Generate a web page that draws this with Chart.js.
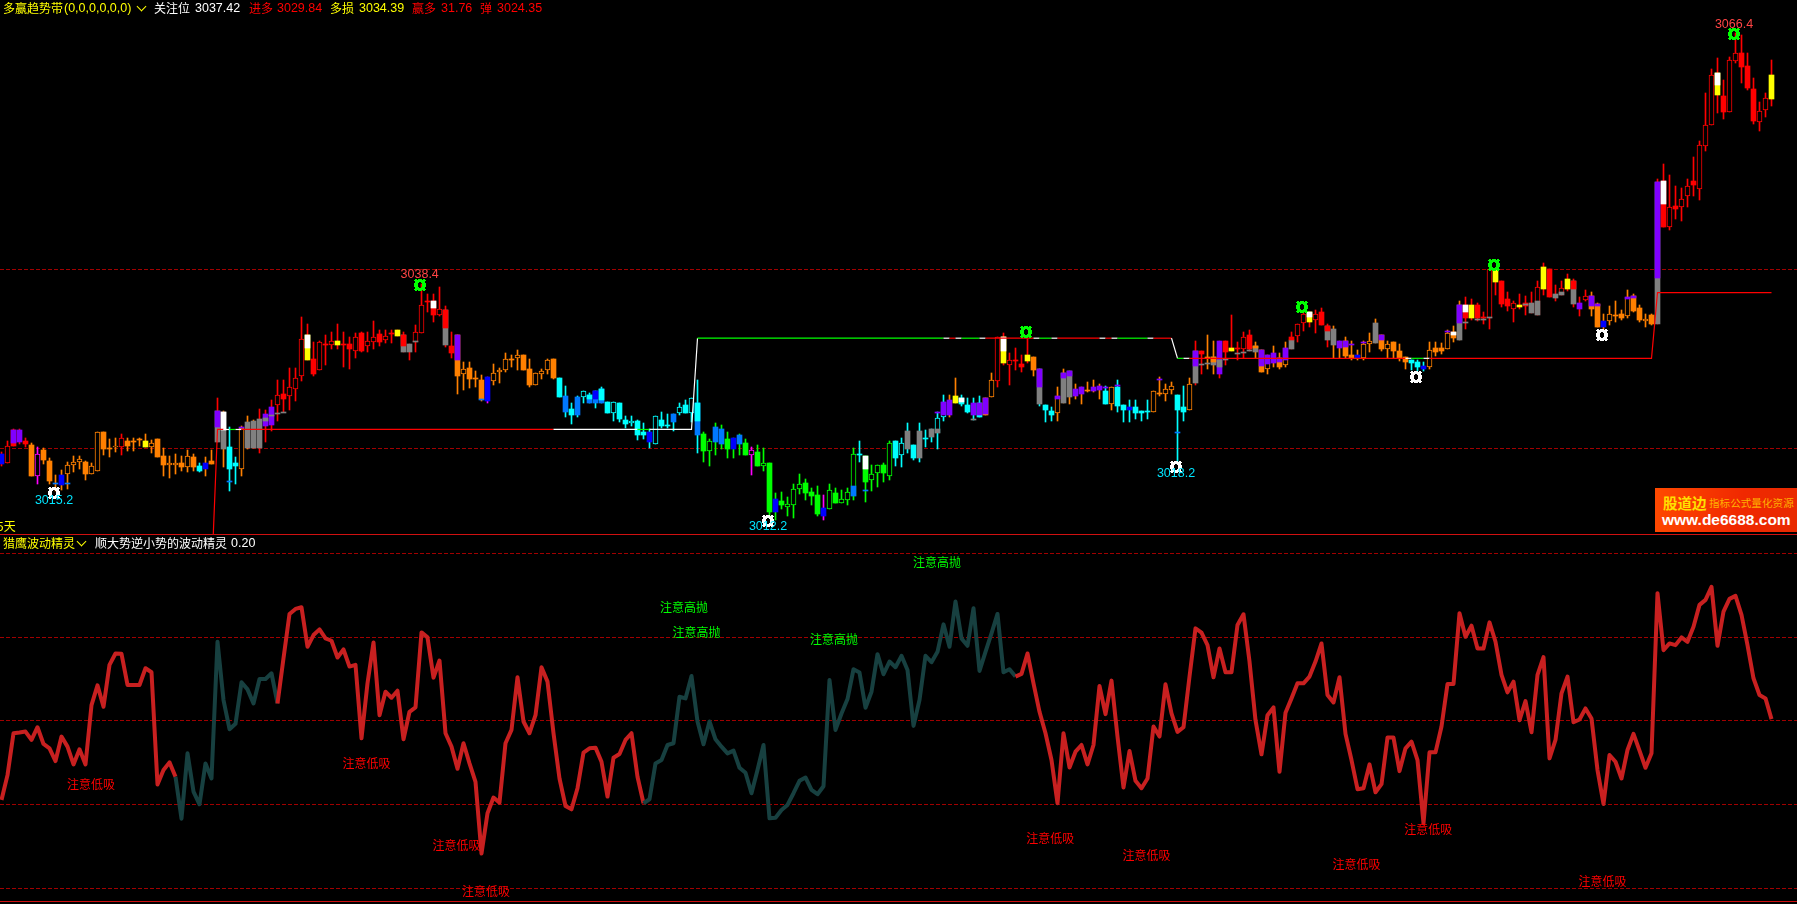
<!DOCTYPE html>
<html>
<head>
<meta charset="utf-8">
<title>多赢趋势带</title>
<script src="https://cdn.jsdelivr.net/npm/chart.js@4/dist/chart.umd.min.js"></script>
<style>
    html, body { margin: 0; padding: 0; background: #000; width: 1797px; height: 904px; overflow: hidden; }
    canvas { position: absolute; left: 0; display: block; }
    #priceChart { top: 0; }
    #waveChart { top: 534px; }
    .frame { position: absolute; left: 0; width: 1797px; height: 1px; background: #d01010; }
    .t { position: absolute; white-space: nowrap; font: 12px/14px "Noto Sans CJK SC", sans-serif; }
    .n { font: 12.5px/14px "Liberation Sans", sans-serif; }
    .yl { color: #ffff00; } .wh { color: #fff; } .rd { color: #ff0000; }
    .chev { position: absolute; width: 6px; height: 6px; border-right: 1.5px solid #ffff00; border-bottom: 1.5px solid #ffff00; transform: rotate(45deg); }
    #logo { position: absolute; left: 1655px; top: 488px; width: 142px; height: 44px; background: linear-gradient(100deg, #ff4a00, #f02800 60%, #e82a00); }
</style>
</head>
<body>
<canvas id="priceChart" width="1797" height="534"></canvas>
<canvas id="waveChart" width="1797" height="370"></canvas>

<div class="frame" style="top:534px"></div>
<div class="frame" style="top:901px"></div>

<span class="t yl" style="left:3px;top:1px">多赢趋势带</span>
<span class="t n yl" style="left:64px;top:1px">(0,0,0,0,0,0)</span>
<i class="chev" style="left:138px;top:3px"></i>
<span class="t wh" style="left:154px;top:1px">关注位</span>
<span class="t n wh" style="left:195px;top:1px">3037.42</span>
<span class="t rd" style="left:249px;top:1px">进多</span>
<span class="t n rd" style="left:277px;top:1px">3029.84</span>
<span class="t yl" style="left:330px;top:1px">多损</span>
<span class="t n yl" style="left:359px;top:1px">3034.39</span>
<span class="t rd" style="left:412px;top:1px">赢多</span>
<span class="t n rd" style="left:441px;top:1px">31.76</span>
<span class="t rd" style="left:480px;top:1px">弹</span>
<span class="t n rd" style="left:497px;top:1px">3024.35</span>

<span class="t yl" style="left:-3px;top:519px">5天</span>

<span class="t yl" style="left:3px;top:536px">猎鹰波动精灵</span>
<i class="chev" style="left:78px;top:538px"></i>
<span class="t wh" style="left:95px;top:536px">顺大势逆小势的波动精灵</span>
<span class="t n wh" style="left:231px;top:536px">0.20</span>

<div id="logo">
    <span class="t" style="left:8px;top:7px;font-size:14.5px;line-height:16px;font-weight:700;color:#ffe000">股道边</span>
    <span class="t" style="left:54px;top:8px;font-size:10.6px;line-height:14px;color:#ffb000">指标公式量化资源</span>
    <span class="t" style="left:7px;top:23px;font:700 15.5px/17px 'Liberation Sans',sans-serif;color:#fff">www.de6688.com</span>
</div>

<script>
    // candles
    const high = [
        3019.6,3020.8,3022.2,3022.2,3021.2,3020.6,3020.1,3020.0,3018.9,3017.0,
        3017.6,3018.5,3019.1,3019.1,3018.6,3018.4,3021.8,3021.8,3021.0,3021.2,
        3021.6,3021.2,3021.2,3021.2,3021.6,3020.9,3021.0,3020.0,3019.1,3019.4,
        3019.1,3019.8,3019.4,3018.4,3019.0,3019.8,3025.6,3024.2,3022.4,3019.0,
        3022.5,3023.6,3023.2,3024.4,3024.3,3025.4,3027.6,3027.6,3029.0,3029.0,
        3034.7,3033.9,3031.9,3032.0,3032.7,3033.0,3033.9,3033.0,3032.4,3032.9,
        3033.0,3033.0,3034.2,3033.2,3033.2,3033.2,3033.2,3033.0,3031.7,3033.8,
        3038.4,3037.2,3037.2,3038.0,3035.9,3033.0,3032.7,3029.6,3029.6,3028.6,
        3028.2,3028.0,3029.4,3029.0,3030.7,3030.4,3031.0,3030.4,3030.0,3028.4,
        3028.9,3030.0,3030.0,3027.9,3027.0,3025.1,3025.8,3026.4,3026.2,3026.4,
        3026.9,3025.2,3025.2,3025.1,3023.6,3023.6,3023.2,3022.8,3022.2,3023.6,
        3024.1,3023.8,3023.8,3025.1,3025.4,3025.6,3027.6,3021.8,3021.0,3022.8,
        3022.6,3021.8,3021.2,3021.6,3021.0,3020.1,3020.4,3020.0,3018.4,3015.0,
        3015.1,3014.6,3016.0,3017.1,3016.6,3015.6,3015.8,3014.8,3016.0,3015.6,
        3015.3,3015.6,3020.0,3020.8,3019.1,3018.1,3018.1,3018.4,3020.8,3020.8,
        3021.2,3022.8,3020.4,3022.8,3022.0,3022.2,3024.1,3026.0,3026.0,3027.9,
        3026.0,3025.6,3025.6,3025.8,3025.6,3028.4,3032.4,3032.9,3030.7,3031.2,
        3030.4,3032.2,3030.2,3028.9,3024.8,3024.6,3026.9,3028.9,3028.6,3027.2,
        3026.9,3027.4,3027.6,3027.2,3027.0,3026.9,3027.6,3024.8,3025.4,3025.4,
        3024.2,3025.4,3026.4,3028.0,3027.2,3027.4,3026.0,3027.0,3027.9,3032.0,
        3030.9,3032.7,3032.0,3032.0,3032.0,3034.9,3031.9,3033.0,3033.2,3031.9,
        3031.0,3030.4,3031.4,3030.7,3031.9,3033.0,3033.9,3035.5,3035.2,3035.5,
        3035.7,3033.9,3033.7,3032.0,3032.4,3032.0,3031.0,3032.0,3032.9,3034.5,
        3032.7,3032.0,3031.9,3031.7,3030.2,3029.9,3029.9,3029.6,3031.9,3031.9,
        3031.8,3033.2,3033.7,3036.5,3036.9,3036.7,3036.2,3035.2,3040.0,3040.0,
        3038.7,3037.5,3036.5,3037.2,3037.0,3037.5,3038.7,3040.7,3040.0,3038.2,
        3038.7,3039.5,3038.9,3036.9,3037.7,3037.5,3036.2,3035.0,3035.9,3036.5,
        3035.5,3037.7,3037.2,3036.0,3035.0,3035.0,3050.1,3051.8,3050.5,3049.3,
        3049.1,3050.1,3052.6,3054.3,3059.7,3062.4,3063.6,3061.2,3063.7,3066.4,
        3066.2,3064.2,3061.4,3058.7,3059.7,3063.4
    ];
    const low = [
        3018.0,3018.3,3020.3,3020.5,3020.1,3016.9,3016.0,3018.2,3016.0,3015.2,
        3015.3,3015.5,3017.3,3017.7,3016.5,3017.1,3017.5,3019.3,3019.0,3019.6,
        3019.3,3019.7,3019.7,3020.3,3020.1,3019.5,3019.0,3016.9,3016.7,3017.1,
        3017.5,3017.3,3017.5,3017.3,3016.9,3018.2,3020.7,3017.9,3015.2,3016.0,
        3016.9,3019.9,3020.0,3019.5,3020.7,3021.9,3023.1,3024.0,3024.3,3025.3,
        3027.5,3029.9,3028.1,3028.8,3029.3,3031.1,3031.1,3029.1,3028.9,3030.1,
        3030.8,3030.8,3031.1,3031.4,3031.8,3031.8,3032.5,3030.8,3029.9,3030.8,
        3032.9,3035.2,3034.1,3034.8,3031.3,3030.1,3026.1,3026.5,3026.7,3026.9,
        3025.3,3025.1,3027.1,3027.3,3028.5,3029.1,3028.8,3028.8,3026.9,3027.1,
        3027.7,3028.3,3027.7,3025.7,3023.5,3022.7,3023.5,3025.1,3025.1,3024.5,
        3025.1,3023.9,3023.1,3022.9,3022.3,3022.5,3020.9,3021.0,3020.0,3020.5,
        3022.3,3022.3,3021.9,3023.7,3023.9,3022.9,3019.5,3018.5,3018.0,3019.3,
        3019.9,3018.9,3018.9,3019.3,3019.3,3017.0,3018.0,3017.5,3012.2,3012.0,
        3013.2,3012.4,3012.2,3014.9,3014.2,3013.7,3012.4,3012.0,3013.2,3013.9,
        3013.9,3013.7,3014.2,3018.5,3014.0,3015.2,3015.7,3016.2,3016.5,3018.0,
        3017.9,3019.5,3018.7,3018.5,3020.1,3020.7,3019.9,3023.1,3023.5,3025.1,
        3024.7,3023.9,3023.2,3023.5,3023.7,3025.7,3026.9,3029.3,3027.1,3028.8,
        3028.5,3029.5,3028.1,3024.7,3022.9,3023.1,3023.1,3025.1,3025.0,3025.5,
        3025.0,3026.3,3026.3,3025.5,3025.0,3024.3,3024.1,3022.9,3022.9,3023.3,
        3023.1,3023.3,3024.1,3025.8,3025.3,3026.1,3018.2,3023.1,3024.3,3027.1,
        3028.3,3028.9,3028.3,3027.9,3029.3,3030.9,3029.9,3030.1,3030.9,3030.1,
        3028.5,3028.3,3029.1,3028.9,3029.1,3031.1,3031.9,3033.1,3033.6,3032.9,
        3033.8,3031.3,3030.1,3030.1,3030.1,3029.9,3029.9,3029.9,3030.8,3031.8,
        3030.9,3030.1,3030.1,3029.8,3028.9,3028.8,3028.6,3028.6,3028.9,3030.3,
        3030.5,3031.1,3031.9,3032.1,3033.3,3034.3,3034.2,3033.9,3033.3,3037.1,
        3035.8,3035.3,3034.1,3035.6,3034.9,3035.1,3034.9,3037.1,3036.9,3036.4,
        3037.1,3037.6,3035.8,3034.8,3036.4,3034.8,3033.6,3033.2,3033.8,3034.1,
        3034.3,3034.6,3035.2,3034.1,3033.6,3033.8,3033.9,3044.7,3044.4,3045.6,
        3045.4,3047.0,3048.2,3047.7,3053.2,3056.1,3057.5,3056.8,3057.6,3063.1,
        3060.8,3060.0,3056.2,3055.5,3057.0,3058.2
    ];
    const open = [
        3019.4,3018.3,3022.0,3022.0,3020.8,3020.4,3016.9,3019.8,3018.6,3016.1,
        3017.0,3017.1,3018.1,3018.5,3018.5,3017.1,3017.5,3021.8,3020.0,3020.1,
        3020.1,3020.8,3020.8,3021.0,3020.8,3020.1,3021.0,3019.1,3018.1,3018.1,
        3018.4,3017.9,3019.0,3018.0,3018.4,3018.6,3024.2,3024.1,3020.1,3018.4,
        3017.7,3022.9,3023.1,3023.3,3023.8,3024.6,3024.8,3026.1,3025.8,3026.6,
        3028.1,3032.7,3030.0,3028.8,3031.7,3031.5,3032.0,3031.7,3031.7,3030.9,
        3032.9,3031.4,3031.9,3032.8,3032.1,3032.9,3033.2,3032.7,3031.7,3031.9,
        3032.9,3036.4,3036.5,3034.9,3035.5,3031.4,3032.7,3028.3,3029.0,3027.9,
        3027.6,3028.0,3027.5,3028.5,3028.8,3030.0,3030.1,3030.4,3028.9,3027.1,
        3028.3,3028.8,3030.0,3027.9,3025.8,3024.4,3025.7,3025.7,3026.0,3026.4,
        3026.6,3025.2,3023.9,3025.1,3023.2,3022.8,3023.1,3021.8,3021.8,3020.5,
        3023.2,3022.6,3023.8,3023.9,3024.8,3023.9,3025.1,3021.6,3019.7,3022.4,
        3022.2,3021.0,3021.2,3021.5,3020.6,3019.3,3019.6,3018.0,3018.4,3014.3,
        3014.1,3013.4,3013.7,3015.5,3016.1,3015.1,3014.8,3013.3,3013.2,3015.0,
        3013.9,3014.2,3014.7,3019.4,3019.1,3016.5,3017.2,3018.1,3016.9,3020.8,
        3019.3,3021.9,3020.4,3021.9,3021.1,3022.2,3021.7,3023.5,3025.4,3025.8,
        3025.6,3024.8,3025.1,3025.1,3025.6,3025.7,3027.5,3032.4,3029.3,3029.9,
        3029.4,3030.4,3030.2,3028.9,3024.8,3024.2,3023.9,3028.4,3028.6,3026.6,
        3026.9,3026.5,3026.9,3027.0,3026.4,3025.0,3026.9,3024.8,3024.6,3024.6,
        3024.2,3024.2,3024.1,3026.2,3026.1,3026.5,3026.0,3024.6,3024.3,3030.9,
        3030.9,3030.2,3030.2,3032.0,3032.0,3031.2,3031.2,3031.1,3032.7,3031.4,
        3031.0,3028.9,3030.7,3030.1,3029.3,3032.1,3032.5,3034.0,3035.2,3034.3,
        3035.2,3033.7,3033.3,3032.0,3032.0,3030.4,3030.4,3030.1,3031.6,3034.0,
        3032.7,3031.1,3031.9,3030.9,3030.2,3029.9,3029.6,3029.2,3029.1,3031.2,
        3031.2,3031.1,3033.0,3036.0,3036.0,3036.0,3036.0,3034.7,3034.6,3039.9,
        3038.7,3036.7,3035.6,3036.0,3036.2,3036.2,3034.9,3040.3,3040.0,3037.2,
        3037.1,3038.9,3038.7,3036.2,3036.6,3037.0,3036.1,3034.2,3034.2,3034.9,
        3035.0,3034.8,3037.0,3035.7,3034.2,3034.9,3049.8,3049.9,3044.7,3047.1,
        3047.0,3048.2,3049.9,3049.0,3053.8,3056.1,3061.9,3059.4,3057.6,3063.3,
        3064.2,3062.7,3060.1,3056.5,3057.8,3061.7
    ];
    const close = [
        3018.2,3020.3,3020.3,3020.7,3020.5,3016.9,3019.4,3018.7,3016.3,3016.0,
        3015.9,3018.1,3018.5,3018.8,3017.1,3018.0,3021.8,3019.9,3019.9,3020.3,
        3021.1,3020.3,3020.7,3020.9,3020.1,3020.6,3019.0,3018.1,3018.3,3018.3,
        3017.9,3019.1,3017.9,3017.5,3017.7,3018.2,3020.7,3019.9,3017.7,3018.0,
        3022.3,3020.0,3020.0,3020.0,3022.5,3022.6,3025.9,3025.5,3026.8,3027.9,
        3032.2,3029.9,3028.3,3031.9,3031.6,3032.0,3031.5,3031.6,3031.1,3032.4,
        3030.9,3032.0,3032.4,3031.9,3032.6,3032.8,3032.5,3030.8,3030.8,3033.0,
        3036.0,3036.3,3034.9,3035.6,3031.5,3030.6,3028.1,3028.9,3027.7,3027.8,
        3025.5,3025.3,3028.4,3028.8,3030.0,3029.9,3030.4,3028.8,3027.1,3028.4,
        3028.6,3029.9,3027.9,3025.7,3024.1,3023.7,3023.7,3026.4,3025.1,3025.1,
        3025.1,3023.9,3025.2,3023.3,3022.7,3023.1,3021.5,3021.5,3020.7,3023.6,
        3022.5,3022.5,3022.9,3024.6,3023.9,3025.6,3021.5,3019.7,3020.8,3020.7,
        3020.5,3019.9,3019.9,3020.5,3019.3,3019.8,3018.0,3018.4,3012.9,3012.9,
        3013.7,3013.8,3015.5,3016.0,3015.0,3014.7,3012.7,3012.4,3015.3,3013.9,
        3014.3,3015.1,3019.4,3019.3,3016.2,3017.1,3018.1,3017.2,3020.6,3018.9,
        3020.6,3019.9,3018.9,3018.9,3021.0,3021.3,3023.4,3025.2,3023.7,3025.1,
        3025.0,3024.1,3023.7,3023.5,3023.7,3027.6,3032.4,3029.5,3029.9,3029.8,
        3029.1,3029.8,3028.8,3025.0,3024.3,3023.7,3025.8,3025.1,3025.7,3025.8,
        3026.1,3026.4,3026.4,3026.5,3025.0,3026.9,3024.7,3024.3,3024.3,3023.9,
        3023.9,3024.1,3026.4,3026.1,3026.6,3027.0,3024.3,3024.1,3027.2,3027.3,
        3030.5,3030.1,3029.3,3028.3,3030.8,3030.9,3031.1,3032.4,3031.1,3030.8,
        3028.5,3030.4,3029.5,3029.1,3031.2,3031.1,3033.9,3035.0,3034.1,3035.0,
        3033.8,3032.1,3031.5,3031.2,3030.3,3030.1,3030.1,3031.6,3032.0,3031.8,
        3031.1,3031.6,3030.9,3030.1,3029.6,3029.5,3029.1,3028.9,3031.0,3030.8,
        3030.9,3032.9,3032.3,3032.1,3034.6,3034.6,3034.6,3034.6,3040.0,3038.6,
        3036.1,3035.9,3036.2,3035.8,3035.9,3035.1,3038.0,3037.8,3036.9,3036.8,
        3037.9,3037.8,3036.1,3035.6,3037.0,3035.6,3033.6,3033.6,3035.0,3034.8,
        3034.6,3036.9,3035.3,3034.3,3034.4,3033.9,3033.9,3044.7,3047.0,3046.7,
        3047.8,3049.3,3049.4,3053.9,3056.1,3061.7,3059.5,3057.6,3063.4,3064.2,
        3062.6,3060.3,3056.6,3057.7,3059.1,3059.0
    ];

    // one letter per bar, see palette below
    const bodyCode = [
        'brrpromooa','booooooooo','roooyooooo','ooocbokkcc','okkkpprrrr',
        'ryrrrryrrr','rrrrrrykkr','rrrrkroooo','oboooooooo','ooocacacaa',
        'acccccccbc','ccacccagga','agbagmgggb','gggggggbgg','gggcgggggc',
        'ckckckccpy','ccpcooryrr','ryokccokkp','poppcoccbc','ccooooccok',
        'rokpryrrrk','oopookrryr','rkkpoobook','oooooccboo','oookryrrry',
        'rrryrkryrk','rykprooboo','ooooookrrr','rrrrrryrrr','rrrrry'
    ].join('');
    const wickCode = [
        'rrrrromooo','oooooooooo','rooooooooo','ooocoorocc','ooorrrrrrr',
        'rrrrrrrrrr','rrrrrrrrrr','rrrrrroooo','omoooooooo','oooccccccc',
        'cccccccccc','cccccccggg','gggggmgggg','gggggggmgg','gggcgggggc',
        'ccccccccoo','ccccoorrrr','rrocccoooo','oooococccc','ccoooooccr'.slice(0, 2) + 'oooo' + 'cc' + 'or',
        'roorrrrrro','ooooorrrrr','rroooooooo','oooooccc' + 'oo','oooorrrrrr',
        'rrrrrrrrrr','rrrrrooooo','oooooorrrr','rrrrrrrrrr','rrrrrr'
    ].join('');

    // bars whose body has a second colour band
    const bandIndex = [2,36,37,44,51,67,72,74,76,98,99,100,116,142,144,156,157,160,163,164,167,173,176,177,178,199,202,203,209,210,211,213,214,215,218,221,224,230,242,243,244,256,260,262,265,266,271,272,276,277,286];
    const bandLow = [3020.6,3022.4,3022.0,3023.0,3031.2,3031.4,3035.7,3033.4,3029.9,3025.5,3025.5,3025.4,3023.1,3014.7,3017.7,3021.7,3023.7,3025.2,3023.7,3023.8,3030.9,3026.9,3025.5,3027.9,3028.1,3029.2,3029.6,3029.1,3031.2,3029.2,3029.4,3029.6,3029.9,3032.1,3034.7,3033.1,3031.3,3032.1,3032.7,3034.0,3035.2,3034.9,3037.1,3037.8,3035.9,3035.9,3036.7,3036.8,3039.0,3047.3,3060.6];
    const bandHigh = [3022.0,3024.2,3024.1,3023.4,3032.7,3032.7,3036.5,3035.5,3032.7,3026.0,3026.4,3026.6,3025.1,3015.8,3019.1,3022.2,3025.2,3025.6,3025.1,3025.6,3032.4,3028.9,3025.8,3028.4,3028.6,3030.9,3030.2,3029.9,3031.4,3031.0,3030.4,3030.1,3031.2,3032.4,3035.2,3033.7,3032.0,3032.7,3033.0,3036.0,3036.0,3036.5,3037.5,3038.7,3037.0,3036.1,3036.9,3037.0,3049.8,3049.9,3061.9];
    const bandCode = 'ppwkwrwrpcbccawkpwppwpppppokopppprwrppwpwkkrpppppww';

    // thin tick marks the indicator leaves on a bar
    const tickIndex = [11,38,40,45,46,47,69,80,144,156,162,184,186,193,196,200,201,204,206,207,208,225,227,241,244,246,247,248,254];
    const tickPrice = [3016.0,3016.2,3022.3,3023.6,3023.8,3024.0,3031.9,3025.4,3015.2,3023.9,3023.2,3026.7,3027.0,3027.6,3021.7,3029.3,3029.4,3029.9,3030.5,3030.7,3030.9,3031.5,3031.8,3033.0,3034.0,3034.3,3034.4,3034.6,3036.0];
    const tickCode = 'aapkkkkaapkpppakkkkkkpppkkkkk';

    // stepped trend line, corners and colour changes only
    const trendIndex = [35,36,37,38,39,40,92,106,108,115,116,157,158,159,160,163,164,172,173,175,176,183,184,185,186,191,192,195,196,197,198,234,235,237,238,275,276,295];
    const trendLevel = [3005.4,3022.1,3022.1,3022.1,3022.1,3022.1,3022.1,3022.1,3022.1,3022.1,3032.3,3032.3,3032.3,3032.3,3032.3,3032.3,3032.3,3032.3,3032.3,3032.3,3032.3,3032.3,3032.3,3032.3,3032.3,3032.3,3032.3,3032.3,3030.05,3030.05,3030.05,3030.05,3030.05,3030.05,3030.05,3030.05,3037.4,3037.4];
    const trendCode = 'rrwgwrwgwwgwrwgwrwgwrwrwgwrwgwrwgwrrr';

    const greenStarIndex = [70,171,217,249,289];
    const greenStarPrice = [3038.2,3033.0,3035.8,3040.5,3066.3];
    const whiteStarIndex = [9,128,196,236,267];
    const whiteStarPrice = [3015.0,3011.9,3017.9,3028.0,3032.7];

    const priceLabels = ['3038.4','3015.2','3012.2','3018.2','3066.4'];
    const priceLabelIndex = [69.7,8.75,127.75,195.75,288.75];
    const priceLabelPrice = [3039.4,3014.2,3011.2,3017.2,3067.4];
    const priceLabelCode = ['l','c','c','c','l'];

    const priceTicks = [3020, 3040];

    // lower pane
    const wave = [
        26.4,33.8,46.3,46.5,46.8,44.3,48.1,43.1,41.8,38.0,
        45.3,42.3,37.0,41.5,37.0,54.7,60.6,54.2,66.7,70.1,
        70.0,60.7,60.7,60.7,65.7,64.5,31.0,35.3,37.6,33.3,
        20.8,40.3,28.9,25.1,37.3,32.8,73.6,56.2,47.5,49.1,
        61.5,59.4,55.2,62.5,62.5,64.2,55.2,68.7,81.9,83.4,
        83.9,72.1,75.6,77.3,74.6,73.9,68.9,71.3,66.2,66.7,
        44.8,61.2,73.4,51.7,58.7,56.9,59.0,44.5,52.7,54.0,
        76.4,74.9,62.9,68.0,46.3,42.3,35.7,43.3,37.3,31.8,
        10.4,22.4,27.1,25.6,43.3,47.3,63.0,49.8,46.3,51.7,
        66.0,61.7,46.3,32.8,24.6,23.6,29.9,40.5,41.8,42.0,
        37.8,27.4,39.0,40.1,44.3,46.3,33.3,25.4,26.6,37.3,
        38.3,42.8,43.3,57.2,56.7,63.4,49.8,43.0,49.8,44.5,
        42.3,40.3,41.1,36.0,34.5,28.4,35.3,42.8,20.9,21.1,
        23.4,24.9,28.4,32.1,33.1,29.4,28.1,30.5,62.2,47.3,
        52.2,56.5,65.4,64.4,53.9,58.7,69.9,63.9,67.7,66.0,
        69.4,65.2,48.5,56.2,69.4,67.5,70.6,78.8,72.1,85.6,
        74.6,72.4,83.6,64.9,70.6,76.1,81.9,64.5,65.4,63.2,
        64.0,70.1,61.2,52.7,46.3,38.3,25.4,46.3,36.1,40.8,
        42.8,37.0,42.8,60.4,52.0,62.0,45.3,30.1,41.0,32.1,
        29.9,32.8,48.3,45.3,60.9,52.2,46.7,48.1,63.2,77.6,
        76.3,72.6,63.0,71.6,64.5,64.5,78.6,81.8,67.7,50.2,
        40.0,51.7,54.0,34.8,52.4,56.7,61.2,61.2,63.2,67.7,
        73.1,57.7,55.5,63.0,46.1,38.3,29.6,29.9,37.0,28.7,
        31.1,45.0,45.0,35.0,41.8,43.8,38.3,19.4,40.6,40.6,
        48.3,61.0,61.0,82.1,75.1,78.4,71.6,71.6,79.4,73.6,
        63.7,58.5,61.7,50.2,55.9,46.6,63.7,69.0,38.8,44.3,
        58.2,63.2,49.6,50.4,53.7,50.7,35.3,25.2,39.8,37.8,
        32.8,41.3,46.1,41.1,36.0,40.3,88.1,71.1,73.1,72.6,
        74.9,73.6,78.1,84.6,86.1,90.0,72.4,82.6,86.4,87.3,
        81.6,72.6,62.7,57.7,56.7,50.5
    ];
    // dark stretches of the wave line, first and last bar
    const waveDarkFrom = [29, 107];
    const waveDarkTo = [46, 169];
    const waveTicks = [0, 25, 50, 75, 100];

    const lowNoteIndex = [14.9,60.85,75.85,80.75,174.8,190.85,237.8,225.85,266.85];
    const lowNoteValue = [31.1,37.4,12.9,-1.0,15.0,9.9,17.7,7.0,2.0];
    const highNoteIndex = [113.75,115.85,138.75,155.9];
    const highNoteValue = [83.7,76.5,74.4,97.4];

    const palette = {
        r: '#ff0000', o: '#ff8000', c: '#00ffff', a: '#0078ff', b: '#0000ff', g: '#00ff00',
        p: '#8000ff', y: '#ffff00', w: '#ffffff', k: '#808080', m: '#ff00ff'
    };
    const labelColor = { l: '#ff4444', c: '#00e5ff' };

    Chart.defaults.animation = false;
    Chart.defaults.devicePixelRatio = 1;

    function makeStar(color) {
        const rows = [
            '.XX.XXXX.XX.',
            'XXXXXXXXXXXX',
            '.XXXXXXXXXX.',
            '.XXXX..XXXX.',
            'XXXX....XXXX',
            'XXXX....XXXX',
            'XXXX....XXXX',
            'XXXX....XXXX',
            '.XXXX..XXXX.',
            '.XXXXXXXXXX.',
            'XXXXXXXXXXXX',
            '.XX.XXXX.XX.'
        ];
        const c = document.createElement('canvas');
        c.width = 15;
        c.height = 12;
        const ctx = c.getContext('2d');
        ctx.fillStyle = color;
        rows.forEach((row, y) => {
            [...row].forEach((ch, x) => { if (ch === 'X') ctx.fillRect(x, y, 1, 1); });
        });
        return c;
    }

    // keeps bars on whole pixels, the original is drawn without smoothing
    const snapBars = {
        id: 'snapBars',
        afterDatasetsUpdate(chart) {
            chart.getSortedVisibleDatasetMetas().forEach(meta => {
                if (meta.type === 'bar') {
                    meta.data.forEach(el => {
                        el.y = Math.round(el.y);
                        el.base = Math.round(el.base);
                        if (Math.abs(el.y - el.base) < 1) el.base = el.y + 1;
                    });
                }
                if (meta.type === 'line' && meta.controller.getDataset().isStar) {
                    meta.data.forEach(el => { el.y = Math.round(el.y); });
                }
            });
        }
    };

    // text notes anchored on the scales
    const notes = {
        id: 'notes',
        afterDatasetsDraw(chart, args, opts) {
            const ctx = chart.ctx;
            ctx.save();
            ctx.textAlign = 'center';
            ctx.textBaseline = 'middle';
            opts.items.forEach(n => {
                ctx.font = opts.font;
                ctx.fillStyle = n.color;
                ctx.fillText(n.text, chart.scales.x.getPixelForValue(n.x), chart.scales.y.getPixelForValue(n.y));
            });
            ctx.restore();
        }
    };

    const xAxis = { type: 'linear', min: -0.25, max: 299.25, display: false, offset: false, bounds: 'data', grid: { display: false, offset: false } };

    function yAxis(min, max, ticks) {
        return {
            type: 'linear',
            min: min,
            max: max,
            bounds: 'data',
            afterBuildTicks: scale => { scale.ticks = ticks.map(v => ({ value: v })); },
            afterFit: scale => { scale.width = 0; },
            ticks: { display: false },
            border: { display: false, dash: [4, 2] },
            grid: { color: '#a00000', lineWidth: 1, drawTicks: false }
        };
    }

    const barDefaults = { type: 'bar', grouped: false, borderSkipped: false };

    const wicks = high.map((h, i) => ({ x: i, y: [low[i], h] }));
    const bodies = open.map((o, i) => ({ x: i, y: [Math.min(o, close[i]), Math.max(o, close[i])] }));
    const bands = bandIndex.map((b, i) => ({ x: b, y: [bandLow[i], bandHigh[i]] }));
    const ticksMarks = tickIndex.map((b, i) => ({ x: b, y: [tickPrice[i], tickPrice[i] + 0.1] }));

    new Chart(document.getElementById('priceChart'), {
        data: {
            datasets: [
                {
                    type: 'line', isStar: true, showLine: false, order: 0,
                    data: greenStarIndex.map((b, i) => ({ x: b, y: greenStarPrice[i] })),
                    pointStyle: makeStar('#00ff00')
                },
                {
                    type: 'line', isStar: true, showLine: false, order: 0,
                    data: whiteStarIndex.map((b, i) => ({ x: b, y: whiteStarPrice[i] })),
                    pointStyle: makeStar('#ffffff')
                },
                {
                    type: 'line', order: 1, borderWidth: 1.2, pointRadius: 0, borderColor: palette.r,
                    data: trendIndex.map((b, i) => ({ x: b, y: trendLevel[i] })),
                    segment: { borderColor: ctx => palette[trendCode[ctx.p0DataIndex]] }
                },
                {
                    ...barDefaults, order: 2, barThickness: 5, borderWidth: 0,
                    data: ticksMarks,
                    backgroundColor: tickIndex.map((b, i) => palette[tickCode[i]])
                },
                {
                    ...barDefaults, order: 3, barThickness: 5, borderWidth: 0,
                    data: bands,
                    backgroundColor: bandIndex.map((b, i) => palette[bandCode[i]])
                },
                {
                    ...barDefaults, order: 4, barThickness: 5,
                    data: bodies,
                    borderWidth: open.map((o, i) => close[i] > o ? 1 : 0),
                    borderColor: open.map((o, i) => palette[bodyCode[i]]),
                    backgroundColor: open.map((o, i) => close[i] > o ? '#000000' : palette[bodyCode[i]])
                },
                {
                    ...barDefaults, order: 5, barThickness: 1, borderWidth: 0,
                    data: wicks,
                    backgroundColor: high.map((h, i) => palette[wickCode[i]])
                }
            ]
        },
        options: {
            responsive: false,
            layout: { padding: 0, autoPadding: false },
            events: [],
            scales: { x: xAxis, y: yAxis(3010.42, 3070.09, priceTicks) },
            plugins: {
                legend: { display: false },
                tooltip: { enabled: false },
                notes: {
                    font: '12.5px "Liberation Sans", sans-serif',
                    items: priceLabels.map((t, i) => ({
                        text: t, x: priceLabelIndex[i], y: priceLabelPrice[i], color: labelColor[priceLabelCode[i]]
                    }))
                }
            }
        },
        plugins: [snapBars, notes]
    });

    const isDark = i => waveDarkFrom.some((from, k) => i >= from && i < waveDarkTo[k]);

    new Chart(document.getElementById('waveChart'), {
        type: 'line',
        data: {
            datasets: [{
                data: wave.map((v, i) => ({ x: i, y: v })),
                borderWidth: 4,
                borderColor: '#c82020',
                borderJoinStyle: 'round',
                pointRadius: 0,
                segment: { borderColor: ctx => isDark(ctx.p0DataIndex) ? '#174040' : '#c82020' }
            }]
        },
        options: {
            responsive: false,
            layout: { padding: 0, autoPadding: false },
            events: [],
            scales: { x: xAxis, y: yAxis(-4.66, 105.76, waveTicks) },
            plugins: {
                legend: { display: false },
                tooltip: { enabled: false },
                notes: {
                    font: '12px "Noto Sans CJK SC", sans-serif',
                    items: lowNoteIndex.map((x, i) => ({ text: '注意低吸', x: x, y: lowNoteValue[i], color: '#ff0000' }))
                        .concat(highNoteIndex.map((x, i) => ({ text: '注意高抛', x: x, y: highNoteValue[i], color: '#00ff00' })))
                }
            }
        },
        plugins: [notes]
    });
</script>
</body>
</html>
